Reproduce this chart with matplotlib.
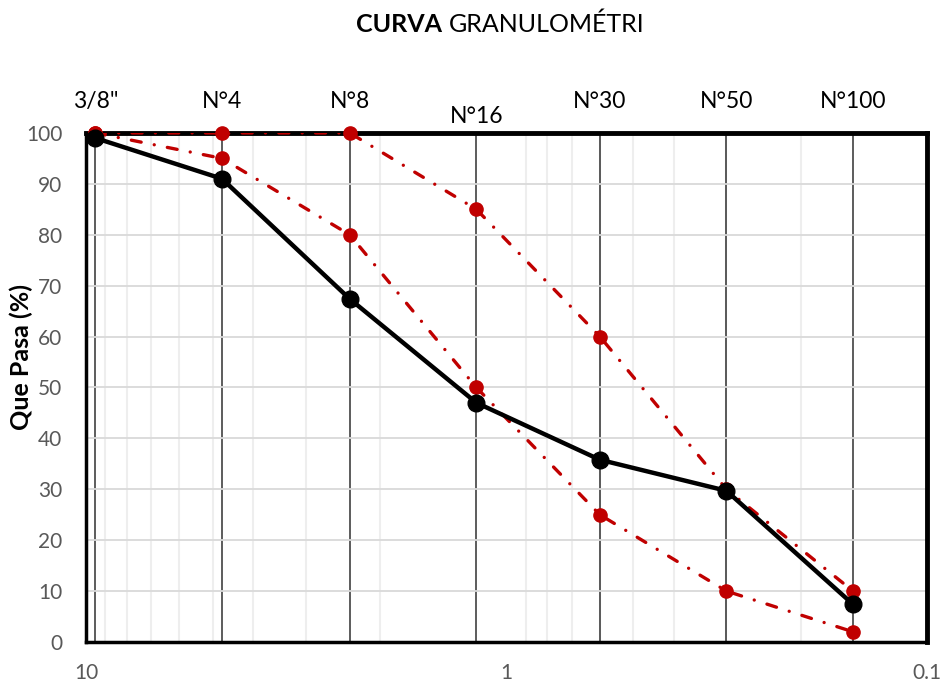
import numpy as np
import matplotlib
matplotlib.use("Agg")
import matplotlib.pyplot as plt
import matplotlib.transforms as mtransforms

plt.rcParams["font.family"] = ["Lato", "DejaVu Sans"]

# sieve openings (mm) and names
sieves = ["3/8\"", "N°4", "N°8", "N°16", "N°30", "N°50", "N°100"]
openings = [9.5, 4.75, 2.36, 1.18, 0.6, 0.3, 0.15]

# percent passing
sample = [99.0, 91.0, 67.4, 47.0, 35.8, 29.7, 7.4]
upper_limit = [100, 100, 100, 85, 60, 30, 10]
lower_limit = [100, 95, 80, 50, 25, 10, 2]

RED = "#c00000"
GRAY_TXT = "#595959"

fig = plt.figure(figsize=(9.44, 6.87), dpi=100)
ax = fig.add_axes([0.0911, 0.0655, 0.891, 0.741])

ax.set_xscale("log")
ax.set_xlim(10, 0.1)
ax.set_ylim(0, 100)

# grid: light log minor lines, darker lines at each sieve
ax.set_yticks(np.arange(0, 101, 10))
ax.yaxis.grid(True, color="#d9d9d9", lw=1.3, zorder=0)
minor = [k * 10 ** d for d in (-1, 0) for k in range(2, 10)]
for xm in minor:
    ax.axvline(xm, color="#eeeeee", lw=1.5, zorder=0)
for xs in openings:
    ax.axvline(xs, color="#303030", lw=1.1, zorder=1)

# limit curves
for lim in (upper_limit, lower_limit):
    ax.plot(openings, lim, color=RED, lw=2.4, ls=(0, (3, 4, 0.01, 4)),
            dash_capstyle="round", zorder=3)
    ax.plot(openings, lim, "o", color=RED, ms=9.5, zorder=4, clip_on=False)

# sample gradation
ax.plot(openings, sample, color="black", lw=3.2, marker="o", ms=12, zorder=5, clip_on=False)

for side in ["top", "right", "bottom", "left"]:
    ax.spines[side].set_color("black")
ax.spines["top"].set_linewidth(3.5)
ax.spines["right"].set_linewidth(3.5)
ax.spines["bottom"].set_linewidth(2.5)
ax.spines["left"].set_linewidth(2.5)

ax.set_xticks([10, 1, 0.1])
ax.set_xticklabels(["10", "1", "0.1"])
ax.xaxis.set_minor_locator(matplotlib.ticker.NullLocator())
ax.tick_params(axis="x", length=0, pad=15, labelsize=15, labelcolor=GRAY_TXT)
ax.tick_params(axis="y", length=0, pad=17, labelsize=15, labelcolor=GRAY_TXT)

ax.set_ylabel("Que Pasa (%)", fontsize=18, fontweight="bold")
ax.yaxis.set_label_coords(-0.063, 0.56)

# sieve names along the top
trans = mtransforms.blended_transform_factory(ax.transData, ax.transAxes)
for name, xs in zip(sieves, openings):
    off = 0.012 if name == "N°16" else 0.042
    ax.text(xs, 1 + off, name, transform=trans, ha="center", va="bottom",
            fontsize=16.5, color="black")

fig.text(0.468, 0.965, "CURVA", ha="right", va="center", fontsize=18, fontweight="bold")
fig.text(0.4755, 0.965, "GRANULOMÉTRI", ha="left", va="center", fontsize=18)

fig.savefig("out.png", dpi=100)
